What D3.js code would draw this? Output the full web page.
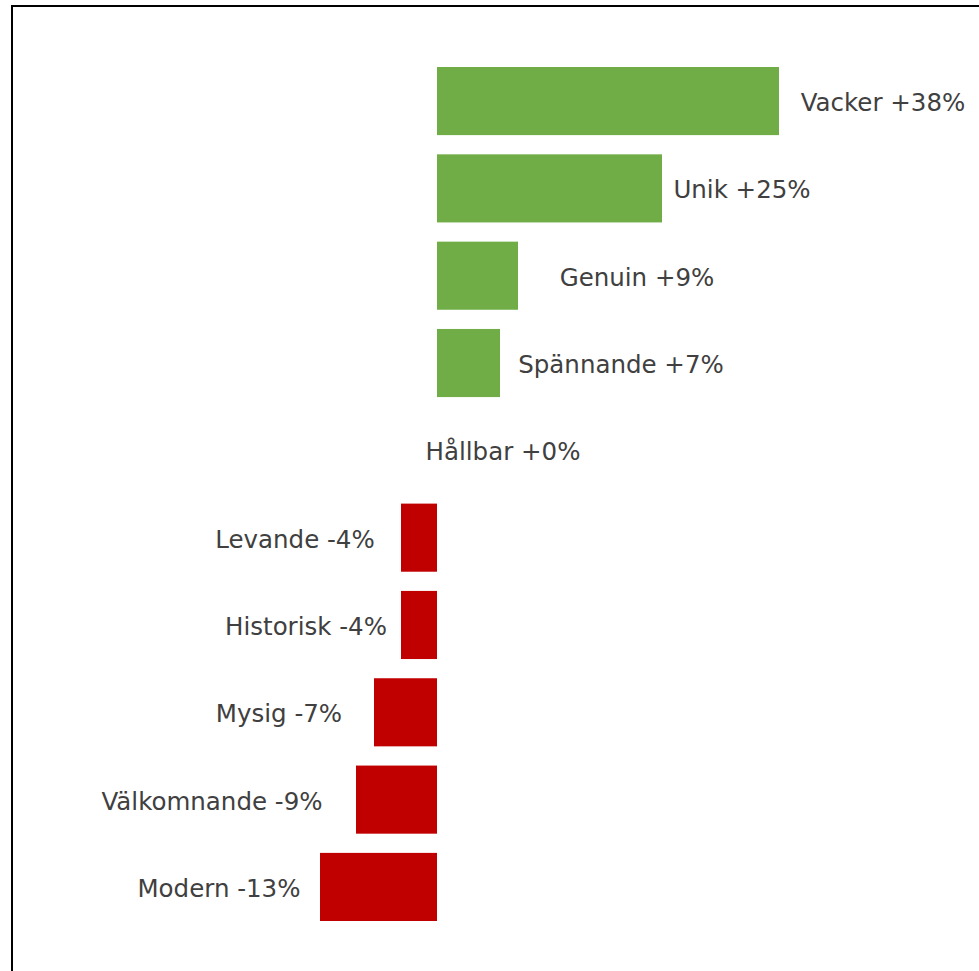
<!DOCTYPE html>
<html><head><meta charset="utf-8">
<script src="https://cdn.jsdelivr.net/npm/d3@7"></script>
<style>body{margin:0;background:#fff;overflow:hidden}svg{display:block}</style>
</head><body>
<script>
const categories = ["Vacker","Unik","Genuin","Spännande","Hållbar","Levande","Historisk","Mysig","Välkomnande","Modern"];
const values = [38, 25, 9, 7, 0, -4, -4, -7, -9, -13];
const labels = ["Vacker +38%","Unik +25%","Genuin +9%","Spännande +7%","Hållbar +0%","Levande -4%","Historisk -4%","Mysig -7%","Välkomnande -9%","Modern -13%"];
// label centre x positions (layout only)
const labelCenterX = [883, 742, 637, 621, 503, 295, 306, 279, 212, 219];

const W = 979, H = 971;
const svg = d3.select("body").append("svg").attr("width", W).attr("height", H);
svg.append("rect").attr("width", W).attr("height", H).attr("fill", "#fff");
svg.append("rect").attr("x", 12).attr("y", 6).attr("width", W + 20).attr("height", H + 20)
  .attr("fill", "none").attr("stroke", "#000").attr("stroke-width", 2);

const x = d3.scaleLinear().domain([0, 38]).range([437, 779]);
const y = d3.scaleBand().domain(categories).range([57.4, 930.6]).paddingInner(0.22).paddingOuter(0.11);

svg.selectAll("rect.bar").data(categories).join("rect").attr("class", "bar")
  .attr("x", (d, i) => Math.min(x(0), x(values[i])))
  .attr("width", (d, i) => Math.abs(x(values[i]) - x(0)))
  .attr("y", d => y(d)).attr("height", y.bandwidth())
  .attr("fill", (d, i) => values[i] >= 0 ? "#70AD47" : "#C00000");

svg.selectAll("text.lbl").data(categories).join("text").attr("class", "lbl")
  .attr("x", (d, i) => labelCenterX[i])
  .attr("y", d => y(d) + y.bandwidth() / 2 + 3)
  .attr("text-anchor", "middle").attr("dominant-baseline", "middle")
  .attr("font-family", "'DejaVu Sans', sans-serif").attr("font-size", 24.5)
  .attr("fill", "#404040")
  .text((d, i) => labels[i]);
</script>
</body></html>
